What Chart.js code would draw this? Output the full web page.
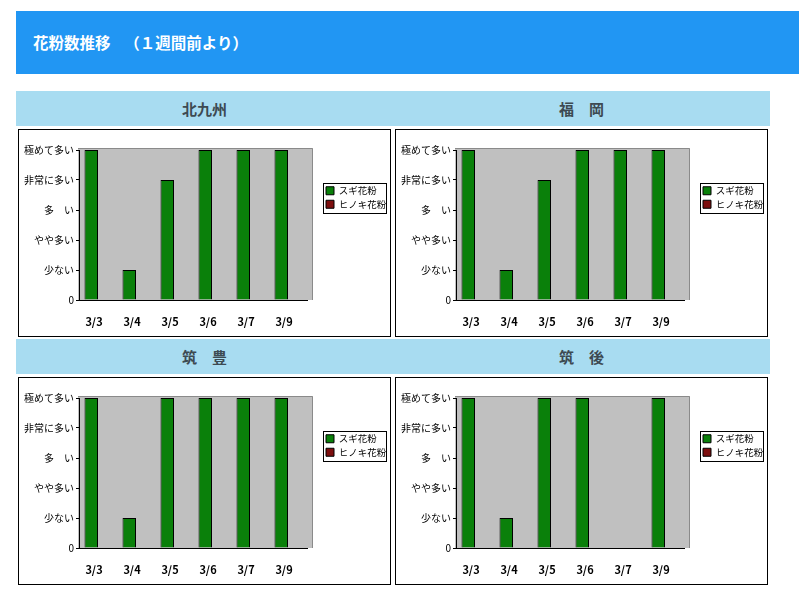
<!DOCTYPE html>
<html lang="ja">
<head>
<meta charset="utf-8">
<title>花粉数推移</title>
<script src="https://cdn.jsdelivr.net/npm/chart.js@4.4.1/dist/chart.umd.min.js"></script>
<style>
  body { margin: 0; width: 799px; height: 599px; overflow: hidden; background: #fff;
         font-family: "Noto Sans CJK JP", sans-serif; }
  #head { position: absolute; left: 16px; top: 11px; width: 783px; height: 63px;
          background: #2196f3; color: #fff; font-weight: bold; font-size: 15.5px;
          line-height: 63px; padding-left: 17px; box-sizing: border-box; }
  .sec { position: absolute; left: 16px; width: 754px; height: 35px; background: #a8dcf1; }
  .sec span { position: absolute; top: 0; width: 377px; text-align: center; line-height: 35px;
              font-weight: bold; font-size: 15px; color: #3d4a52; }
  .box { position: absolute; width: 371px; height: 206px; border: 1px solid #000; }
  .box canvas { display: block; }
</style>
</head>
<body>
<div id="head">花粉数推移　<span style="margin-left:6px">（１週間前より）</span></div>

<div class="sec" style="top:91px"><span style="left:0">北九州</span><span style="left:377px">福　岡</span></div>
<div class="box" style="left:18px;top:129px"><canvas id="c1" width="371" height="206"></canvas></div>
<div class="box" style="left:395px;top:129px"><canvas id="c2" width="371" height="206"></canvas></div>

<div class="sec" style="top:339px"><span style="left:0">筑　豊</span><span style="left:377px">筑　後</span></div>
<div class="box" style="left:18px;top:377px"><canvas id="c3" width="371" height="206"></canvas></div>
<div class="box" style="left:395px;top:377px"><canvas id="c4" width="371" height="206"></canvas></div>

<script>
const dates = ['3/3', '3/4', '3/5', '3/6', '3/7', '3/9'];
const levelLabels = ['0', '少ない', 'やや多い', '多　い', '非常に多い', '極めて多い'];

const kitakyushuSugi = [5, 1, 4, 5, 5, 5];
const kitakyushuHinoki = [0, 0, 0, 0, 0, 0];
const fukuokaSugi = [5, 1, 4, 5, 5, 5];
const fukuokaHinoki = [0, 0, 0, 0, 0, 0];
const chikuhoSugi = [5, 1, 5, 5, 5, 5];
const chikuhoHinoki = [0, 0, 0, 0, 0, 0];
const chikugoSugi = [5, 1, 5, 5, 0, 5];
const chikugoHinoki = [0, 0, 0, 0, 0, 0];

Chart.defaults.font.family = '"Noto Sans CJK JP", sans-serif';
Chart.defaults.color = '#000';

// gray plot background, a little larger than the category area like the original
const plotBg = {
  id: 'plotBg',
  beforeDraw(chart) {
    const a = chart.chartArea;
    const ctx = chart.ctx;
    ctx.save();
    ctx.fillStyle = '#c0c0c0';
    ctx.fillRect(a.left - 1, a.top - 2, a.right - a.left + 7, a.bottom - a.top + 2);
    ctx.strokeStyle = '#8a8a8a';
    ctx.lineWidth = 1;
    ctx.beginPath();
    ctx.moveTo(a.left - 1, a.top - 1.5);
    ctx.lineTo(a.right + 5.5, a.top - 1.5);
    ctx.lineTo(a.right + 5.5, a.bottom);
    ctx.stroke();
    ctx.restore();
  }
};

// black frame round the legend
const legendFrame = {
  id: 'legendFrame',
  afterDraw(chart) {
    const boxes = chart.legend && chart.legend.legendHitBoxes;
    if (!boxes || !boxes.length) return;
    const left = Math.min(...boxes.map(b => b.left)) - 3;
    const top = Math.min(...boxes.map(b => b.top)) - 3;
    const right = Math.max(...boxes.map(b => b.left + b.width));
    const bottom = Math.max(...boxes.map(b => b.top + b.height)) + 4;
    const ctx = chart.ctx;
    ctx.save();
    ctx.strokeStyle = '#000';
    ctx.lineWidth = 1;
    ctx.strokeRect(Math.round(left) + 0.5, Math.round(top) + 0.5,
                   Math.round(right - left), Math.round(bottom - top));
    ctx.restore();
  }
};

function makeChart(id, sugi, hinoki) {
  const ctx = document.getElementById(id).getContext('2d');
  return new Chart(ctx, {
    type: 'bar',
    data: {
      labels: dates,
      datasets: [
        { label: 'スギ花粉', data: sugi, backgroundColor: '#0a800a', borderColor: '#000', borderWidth: 1 },
        { label: 'ヒノキ花粉', data: hinoki, backgroundColor: '#7d0e0e', borderColor: '#000', borderWidth: 1 }
      ]
    },
    options: {
      responsive: false,
      animation: false,
      datasets: { bar: { categoryPercentage: 0.71, barPercentage: 1.0 } },
      layout: { padding: { top: 20, left: 0, right: 0, bottom: 0 } },
      scales: {
        x: {
          grid: { display: false },
          border: { display: true, color: '#000' },
          ticks: { font: { size: 11, weight: 'bold' }, padding: 7, labelOffset: -4, maxRotation: 0 },
          afterFit(s) { s.height = 36; }
        },
        y: {
          min: 0,
          max: 5,
          grid: { drawOnChartArea: false, drawTicks: true, tickLength: 3, color: '#000' },
          border: { display: true, color: '#000' },
          ticks: {
            stepSize: 1,
            padding: 2,
            font: { size: 10 },
            callback: v => levelLabels[v]
          },
          afterFit(s) { s.width = 60; }
        },
        gap: {
          type: 'linear',
          axis: 'y',
          position: 'right',
          grid: { display: false },
          border: { display: false },
          ticks: { display: false },
          afterFit(s) { s.width = 15; }
        }
      },
      plugins: {
        tooltip: { enabled: false },
        legend: {
          position: 'right',
          align: 'start',
          maxWidth: 68,
          title: { display: true, text: '', font: { size: 10 }, padding: { top: 20, bottom: 0 } },
          labels: { boxWidth: 8, boxHeight: 8, padding: 4, font: { size: 9.5 }, color: '#000' }
        }
      }
    },
    plugins: [plotBg, legendFrame]
  });
}

makeChart('c1', kitakyushuSugi, kitakyushuHinoki);
makeChart('c2', fukuokaSugi, fukuokaHinoki);
makeChart('c3', chikuhoSugi, chikuhoHinoki);
makeChart('c4', chikugoSugi, chikugoHinoki);
</script>
</body>
</html>
